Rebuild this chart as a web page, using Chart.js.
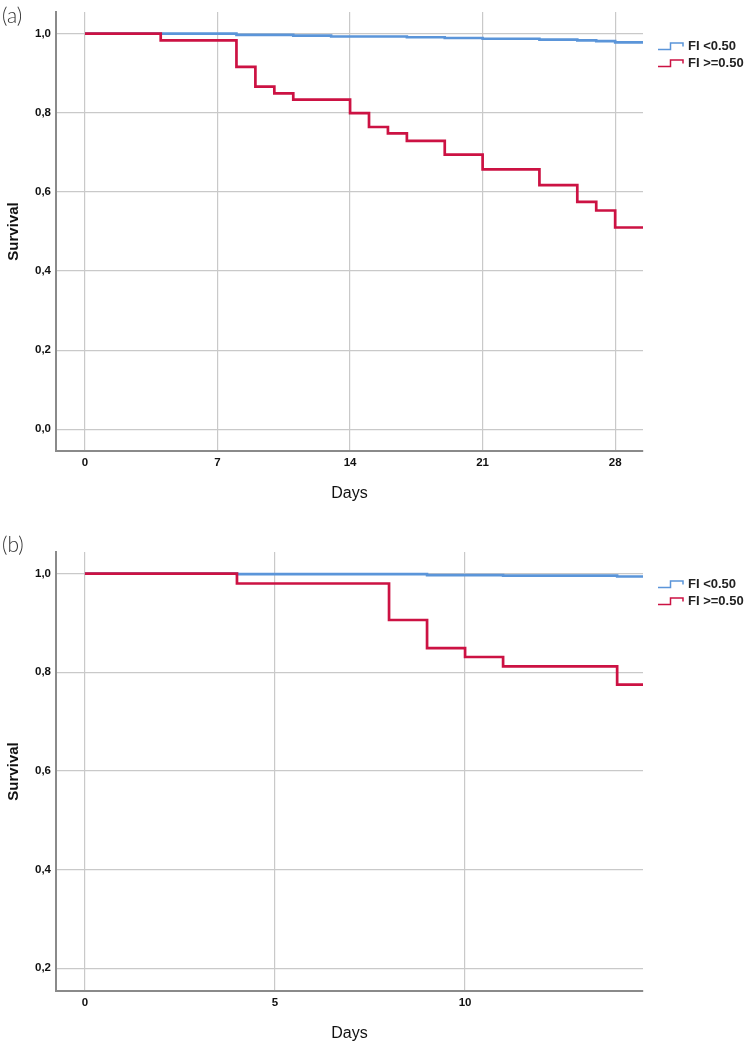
<!DOCTYPE html>
<html>
<head>
<meta charset="utf-8">
<script src="https://cdn.jsdelivr.net/npm/chart.js@4/dist/chart.umd.min.js"></script>
<style>
  body { margin: 0; background: #fff; width: 750px; height: 1047px; position: relative; overflow: hidden; }
  .panel { position: absolute; left: 0; width: 750px; }
  .tag { position: absolute; left: 2px; font-family: Lato, "Noto Sans", sans-serif; font-weight: 300; font-size: 21px; color: #333; }
  .legend { position: absolute; left: 658px; font-family: "Liberation Sans", Arial, sans-serif; font-weight: bold; font-size: 13px; color: #222; }
  .legend div { height: 17px; line-height: 17px; white-space: nowrap; }
  .legend svg { vertical-align: -1px; margin-right: 4px; }
</style>
</head>
<body>
<div class="panel" style="top:0;height:540px"><canvas id="chartA" width="750" height="540"></canvas></div>
<div class="panel" style="top:540px;height:507px"><canvas id="chartB" width="750" height="507"></canvas></div>
<div class="tag" style="top:2px">(a)</div>
<div class="tag" style="top:531px">(b)</div>
<div class="legend" id="legendA" style="top:37px"></div>
<div class="legend" id="legendB" style="top:575px"></div>
<script>
// series names and colours
const seriesLabels = ["FI <0.50", "FI >=0.50"];
const seriesColors = ["#5b95d9", "#cc1243"];

// (a) 28-day follow-up
const daysA_low = [0, 8, 11, 13, 17, 19, 21, 24, 26, 27, 28, 29.5];
const survA_low = [1, 0.997, 0.995, 0.993, 0.991, 0.989, 0.987, 0.985, 0.983, 0.981, 0.978, 0.978];
const daysA_high = [0, 4, 8, 9, 10, 11, 14, 15, 16, 17, 19, 21, 24, 26, 27, 28, 29.5];
const survA_high = [1, 0.983, 0.916, 0.866, 0.849, 0.833, 0.799, 0.764, 0.748, 0.729, 0.694, 0.657, 0.617, 0.575, 0.553, 0.51, 0.51];
const xTicksA = [0, 7, 14, 21, 28];
const yTicksA = [0, 0.2, 0.4, 0.6, 0.8, 1.0];

// (b) 14-day follow-up
const daysB_low = [0, 4, 9, 11, 14, 14.7];
const survB_low = [1, 0.999, 0.997, 0.996, 0.994, 0.994];
const daysB_high = [0, 4, 8, 9, 10, 11, 14, 14.7];
const survB_high = [1, 0.98, 0.906, 0.849, 0.831, 0.812, 0.775, 0.775];
const xTicksB = [0, 5, 10];
const yTicksB = [0.2, 0.4, 0.6, 0.8, 1.0];

const toPoints = (xs, ys) => xs.map((x, i) => ({ x: x, y: ys[i] }));

const tickFont = { family: "Liberation Sans", size: 11.5, weight: "bold" };

const makeChart = (id, lowPts, highPts, opt) => {
  const ctx = document.getElementById(id).getContext("2d");
  return new Chart(ctx, {
    type: "line",
    data: {
      datasets: [
        // red drawn on top where the curves overlap
        { label: seriesLabels[1], data: highPts, borderColor: seriesColors[1], borderWidth: 2.7 },
        { label: seriesLabels[0], data: lowPts, borderColor: seriesColors[0], borderWidth: 2.6 },
      ],
    },
    options: {
      responsive: false,
      animation: false,
      devicePixelRatio: 1,
      layout: { padding: { left: 0, top: opt.padTop, right: 107, bottom: 0 } },
      elements: { point: { radius: 0 }, line: { stepped: "before", tension: 0 } },
      plugins: { legend: { display: false }, tooltip: { enabled: false } },
      scales: {
        x: {
          type: "linear",
          min: opt.xMin,
          max: opt.xMax,
          afterBuildTicks: (s) => { s.ticks = opt.xTicks.map((v) => ({ value: v })); },
          afterFit: (s) => { s.height = opt.xHeight; },
          grid: { color: "#c9c9c9", lineWidth: 1.2, drawTicks: false },
          border: { color: "#8a8a8a", width: 2 },
          ticks: { font: tickFont, color: "#111", padding: 5, maxRotation: 0 },
          title: {
            display: true, text: "Days", color: "#111",
            font: { family: "Liberation Sans", size: 16 },
            padding: { top: 0, bottom: opt.daysPad },
          },
        },
        y: {
          min: opt.yMin,
          max: opt.yMax,
          afterBuildTicks: (s) => { s.ticks = opt.yTicks.map((v) => ({ value: v })); },
          afterFit: (s) => { s.width = 56; },
          grid: { color: "#c9c9c9", lineWidth: 1.2, drawTicks: false },
          border: { color: "#8a8a8a", width: 2 },
          ticks: {
            font: tickFont, color: "#111", padding: 5,
            callback: (v) => v.toFixed(1).replace(".", ","),
          },
          title: {
            display: true, text: "Survival", color: "#111",
            font: { family: "Liberation Sans", size: 15, weight: "bold" },
            padding: { top: 5, bottom: 0 },
          },
        },
      },
    },
  });
};

// html legend with the small step marker
const renderLegend = (id) => {
  const box = document.getElementById(id);
  seriesLabels.forEach((name, i) => {
    const row = document.createElement("div");
    row.innerHTML =
      '<svg width="26" height="9"><polyline points="0,7.5 12.5,7.5 12.5,1 25,1 25,4.5" fill="none" stroke="' +
      seriesColors[i] + '" stroke-width="1.5"/></svg>';
    row.appendChild(document.createTextNode(name));
    box.appendChild(row);
  });
};

makeChart("chartA", toPoints(daysA_low, survA_low), toPoints(daysA_high, survA_high), {
  padTop: 5, xMin: -1.53, xMax: 29.47, yMin: -0.055, yMax: 1.055,
  xTicks: xTicksA, yTicks: yTicksA, xHeight: 89, daysPad: 37,
});
makeChart("chartB", toPoints(daysB_low, survB_low), toPoints(daysB_high, survB_high), {
  padTop: 4, xMin: -0.76, xMax: 14.68, yMin: 0.154, yMax: 1.044,
  xTicks: xTicksB, yTicks: yTicksB, xHeight: 56, daysPad: 4,
});
renderLegend("legendA");
renderLegend("legendB");
</script>
</body>
</html>
